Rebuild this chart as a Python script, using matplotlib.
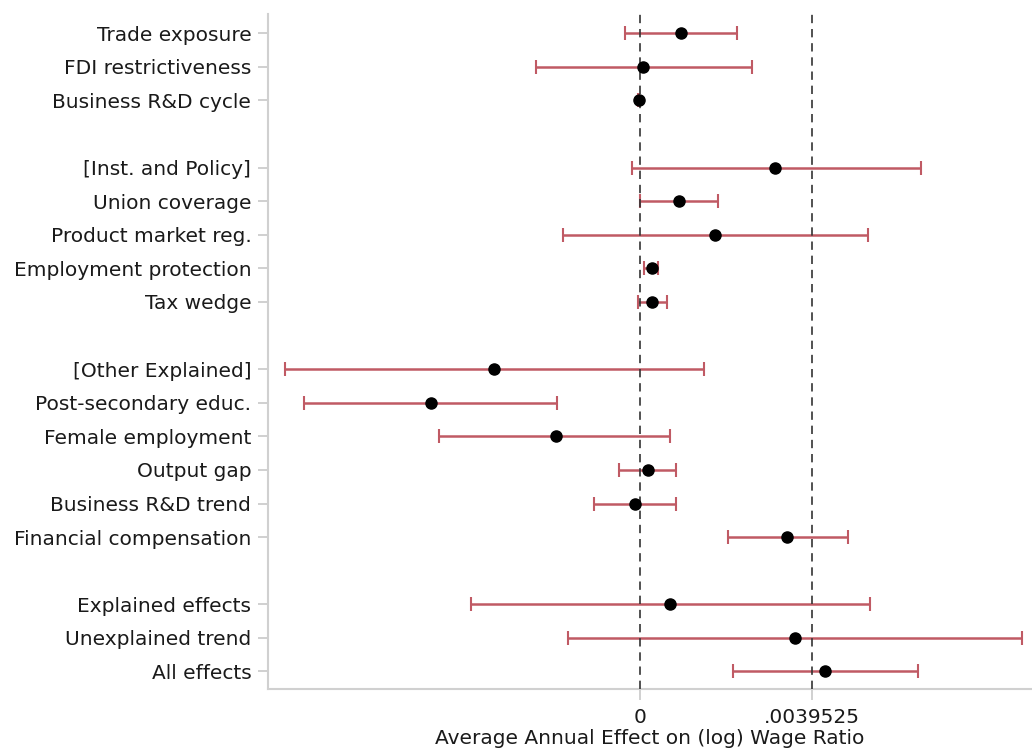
import matplotlib.pyplot as plt
import numpy as np

# coefficient labels, top to bottom; None leaves a blank row between groups
labels = ["Trade exposure", "FDI restrictiveness", "Business R&D cycle", None,
          "[Inst. and Policy]", "Union coverage", "Product market reg.",
          "Employment protection", "Tax wedge", None,
          "[Other Explained]", "Post-secondary educ.", "Female employment",
          "Output gap", "Business R&D trend", "Financial compensation", None,
          "Explained effects", "Unexplained trend", "All effects"]

# point estimates and confidence bounds (same order, blanks skipped)
est = [0.000937, 0.000065, -0.000028,
       0.003117, 0.000909, 0.001726, 0.000278, 0.000278,
       -0.003359, -0.004806, -0.001930, 0.000186, -0.000102, 0.003396,
       0.000705, 0.003581, 0.004268]
lo = [-0.000343, -0.002394, -0.000048,
      -0.000186, 0.000000, -0.001763, 0.000093, -0.000046,
      -0.008158, -0.007721, -0.004611, -0.000482, -0.001058, 0.002023,
      -0.003878, -0.001651, 0.002134]
hi = [0.002227, 0.002579, -0.000008,
      0.006457, 0.001791, 0.005242, 0.000418, 0.000631,
      0.001466, -0.001902, 0.000705, 0.000826, 0.000826, 0.004797,
      0.005288, 0.008796, 0.006393]

xticks = [0, 0.0039525]
xticklabels = ["0", ".0039525"]

rows = [i for i, l in enumerate(labels) if l is not None]
names = [l for l in labels if l is not None]
est = np.array(est)
lo = np.array(lo)
hi = np.array(hi)

fig = plt.figure(figsize=(10.32, 7.51), dpi=100)
ax = fig.add_axes([0.2597, 0.0826, 0.7403, 0.8988])

ax.errorbar(est, rows, xerr=[est - lo, hi - est], fmt="none",
            ecolor="#c05a64", elinewidth=1.8, capsize=5, capthick=1.5, zorder=2)
for x in xticks:
    ax.axvline(x, color="#333333", linestyle=(0, (5, 3.5)), linewidth=1.2, zorder=3)
ax.plot(est, rows, "o", color="black", markersize=8, zorder=4)

ax.set_ylim(19.52, -0.57)
ax.set_xlim(-0.00855, 0.00902)
ax.set_yticks(rows)
ax.set_yticklabels(names, fontsize=14.5, color="#1a1a1a")
ax.set_xticks(xticks)
ax.set_xticklabels(xticklabels, fontsize=14.5, color="#1a1a1a")
ax.set_xlabel("Average Annual Effect on (log) Wage Ratio", fontsize=14.5,
              color="#1a1a1a", labelpad=1.5)

for side in ["top", "right"]:
    ax.spines[side].set_visible(False)
for side in ["left", "bottom"]:
    ax.spines[side].set_color("#d0d0d0")
    ax.spines[side].set_linewidth(1.5)
ax.tick_params(axis="y", colors="#c8c8c8", width=1.2, length=7, pad=5,
               labelcolor="#1a1a1a")
ax.tick_params(axis="x", colors="#c8c8c8", width=1.2, length=8, pad=6,
               labelcolor="#1a1a1a")

fig.savefig("out.png", dpi=100)
